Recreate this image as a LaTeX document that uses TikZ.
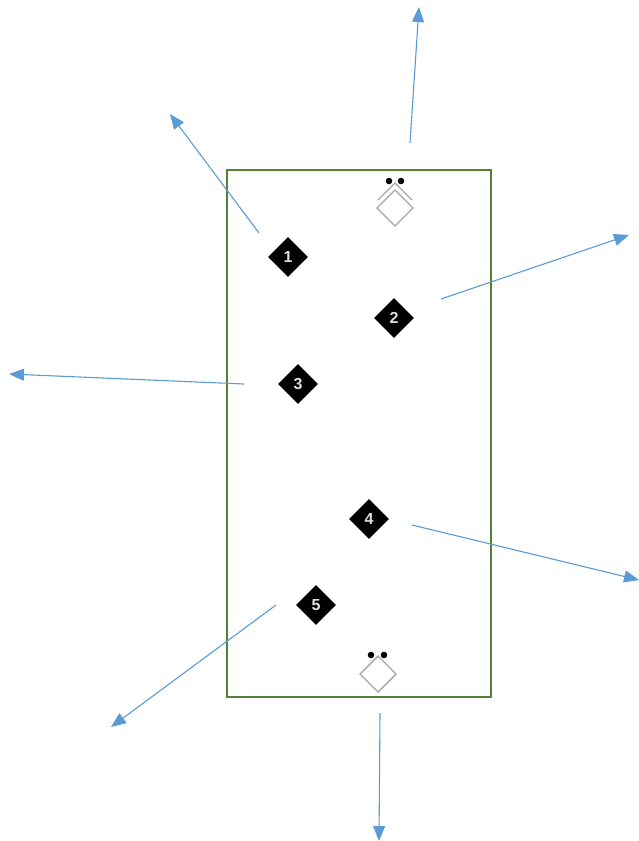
\documentclass[tikz,border=0pt]{standalone}
\usepackage{fontspec}
\setmainfont{Liberation Sans}
\usetikzlibrary{arrows.meta}
\definecolor{fieldgreen}{HTML}{548235}
\definecolor{arrowblue}{HTML}{5B9BD5}
\definecolor{baseg}{HTML}{A6A6A6}
\tikzset{
  player/.style={fill=black, draw=none, shape=rectangle, rotate=45, minimum size=28pt, inner sep=0pt},
  plabel/.style={text=white!88!black, font=\fontsize{16}{16}\selectfont\bfseries},
  run/.style={draw=arrowblue, line width=1.1pt, -{Triangle[length=15pt,width=12pt]}},
  baseline/.style={draw=baseg, line width=1.4pt},
}
\begin{document}
\begin{tikzpicture}[x=1pt,y=-1pt]
\useasboundingbox (0,0) rectangle (638,841);
\fill[white] (0,0) rectangle (638,841);
\draw[fieldgreen, line width=1.3pt] (227,170) rectangle (491,697);
% top base
\draw[baseline] (395,190) -- (413,208) -- (395,226) -- (377,208) -- cycle;
\draw[baseline] (378,200) -- (395,183) -- (412,200);
\fill (389,181) circle (3.3);
\fill (401,181) circle (3.3);
% bottom base
\draw[baseline] (378,656) -- (396,674) -- (378,692) -- (360,674) -- cycle;
\fill (371,655) circle (3.3);
\fill (384,655) circle (3.3);
% players
\foreach \n/\x/\y in {1/288/257, 2/394/318, 3/298/384, 4/369/519, 5/316/605}{
  \node[player] (p\n) at (\x,\y) {};
  \node[plabel] (l\n) at (\x,\y) {\n};
}
% arrow coordinates
\coordinate (a1s) at (259,233); \coordinate (a1e) at (170,114);
\coordinate (ats) at (410,143); \coordinate (ate) at (419,7);
\coordinate (a2s) at (441,299); \coordinate (a2e) at (629,235);
\coordinate (a3s) at (244,384); \coordinate (a3e) at (9,374);
\coordinate (a4s) at (412,525); \coordinate (a4e) at (639,580);
\coordinate (a5s) at (276,605); \coordinate (a5e) at (111,727);
\coordinate (abs) at (380,713); \coordinate (abe) at (379,841);
\draw[run] (a1s) -- (a1e);
\draw[run] (ats) -- (ate);
\draw[run] (a2s) -- (a2e);
\draw[run] (a3s) -- (a3e);
\draw[run] (a4s) -- (a4e);
\draw[run] (a5s) -- (a5e);
\draw[run] (abs) -- (abe);
\end{tikzpicture}
\end{document}
